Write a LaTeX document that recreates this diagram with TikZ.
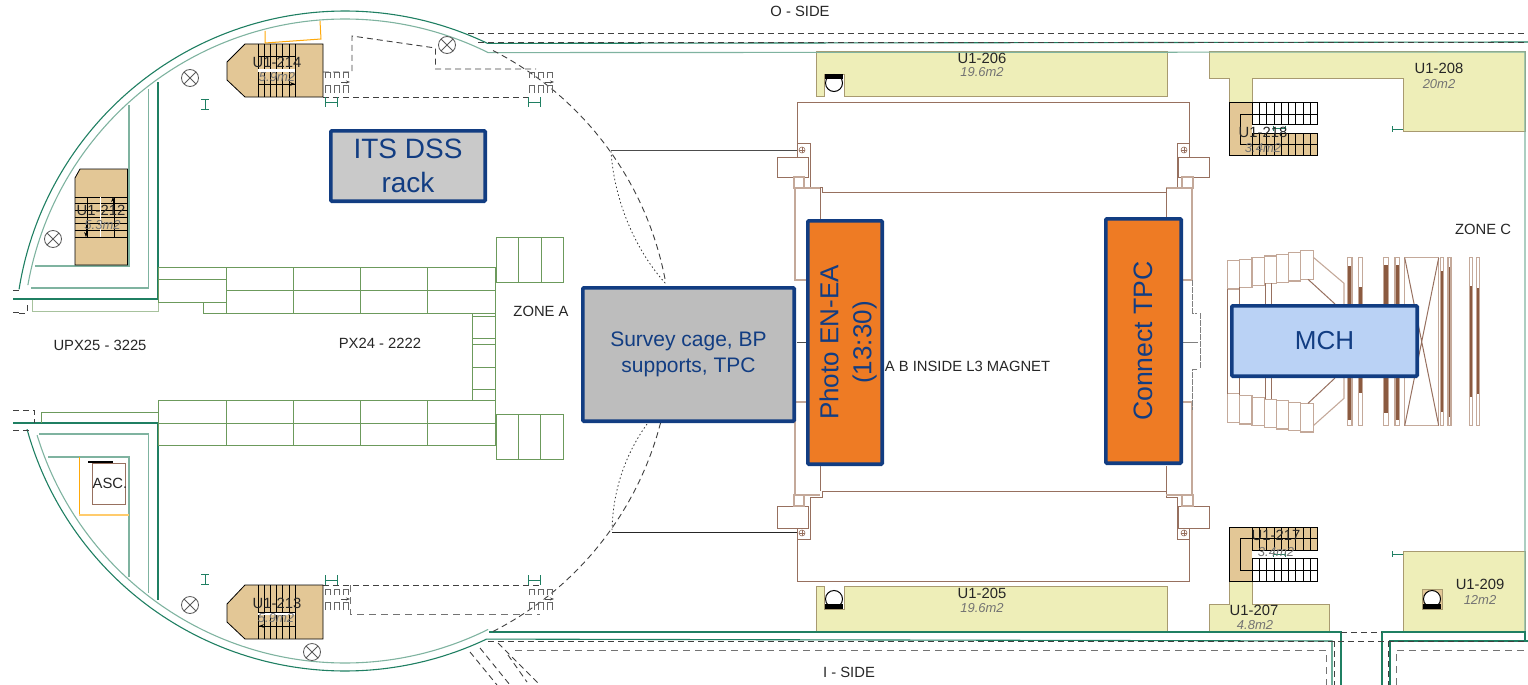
\documentclass[tikz,border=0pt]{standalone}
\usepackage{fontspec}
\setmainfont{Liberation Sans}
\usetikzlibrary{arrows.meta}
\definecolor{wallC}{HTML}{1F7F62}
\definecolor{wallL}{HTML}{7FB3A0}
\definecolor{gridC}{HTML}{6C9A5C}
\definecolor{roomC}{HTML}{EEEEB8}
\definecolor{roomL}{HTML}{A89A70}
\definecolor{stairC}{HTML}{E3C796}
\definecolor{brownC}{HTML}{97705F}
\definecolor{brownL}{HTML}{C4A99A}
\definecolor{brownD}{HTML}{8B5A40}
\definecolor{blueC}{HTML}{123D82}
\definecolor{orangeC}{HTML}{EE7B24}
\definecolor{mchC}{HTML}{BAD2F5}
\definecolor{doorC}{HTML}{FFA90A}

\tikzstyle{wS}=[wallC, line width=1.1pt]
\tikzstyle{wL}=[wallL, line width=1.1pt]
\tikzstyle{gS}=[gridC, line width=1pt]
\tikzstyle{rS}=[fill=roomC, draw=roomL, line width=1pt]
\tikzstyle{sS}=[fill=stairC, draw=black, line width=0.8pt]
\tikzstyle{stepS}=[black, line width=0.7pt]
\tikzstyle{mS}=[brownC, line width=1pt]
\tikzstyle{mL}=[brownL, line width=1.1pt]
\tikzstyle{dS}=[black!75, line width=0.9pt, dash pattern=on 6pt off 4pt]
\tikzstyle{dG}=[black!55, line width=1pt, dash pattern=on 7pt off 5pt]
\tikzstyle{xS}=[black!65, line width=0.8pt]
\tikzstyle{hS}=[wallC, line width=1pt]
\tikzstyle{tL}=[font=\fontsize{14.8}{16}\selectfont, text=black!85, inner sep=0pt]
\tikzstyle{tA}=[font=\fontsize{13}{15}\selectfont\itshape, text=black!55, inner sep=0pt]
\tikzstyle{bS}=[draw=blueC, line width=3.6pt, rounded corners=1pt, align=center, inner sep=0pt, text=blueC]

\begin{document}
\begin{tikzpicture}[x=1pt,y=-1pt]
    \useasboundingbox (0,0) rectangle (1528,685);

    % yellow rooms
    \draw[rS] (816,52) -- (1167,52) -- (1167,96) -- (844,96) -- (844,74) -- (824.5,74) -- (824.5,96) -- (816,96) -- cycle;
    \draw[rS] (816,632) -- (1167,632) -- (1167,586) -- (844,586) -- (844,609) -- (824.5,609) -- (824.5,586) -- (816,586) -- cycle;
    \draw[rS] (1209,52) -- (1525,52) -- (1525,131) -- (1403,131) -- (1403,78) -- (1252,78) -- (1252,102) -- (1229,102) -- (1229,78) -- (1209,78) -- cycle;
    \draw[rS] (1229,581) -- (1252,581) -- (1252,604) -- (1329,604) -- (1329,632) -- (1209,632) -- (1209,604) -- (1229,604) -- cycle;
    \draw[rS] (1403,551) -- (1525,551) -- (1525,632) -- (1403,632) -- cycle;
    \draw[fill=stairC,draw=roomL] (1422,589) rectangle (1442,609);

    % lift doors
    \foreach \dx/\dy/\by in {834/83/74,834/599/604,1432/599/604} {
        \draw[fill=white,line width=1pt] (\dx,\dy) circle (8.5);
        \fill[black] (\dx-9,\by) rectangle (\dx+9,\by+5);
    }

    % walls
    \draw[wS] (345,341) ++(-171:330) arc[start angle=-171,end angle=-64.4,radius=330] -- (1528,42);
    \draw[wL] (345,341) ++(-170:322) arc[start angle=-170,end angle=-63.6,radius=322] -- (1525,52) -- (1525,632);
    \draw[wS] (345,341) ++(164.5:330) arc[start angle=164.5,end angle=64.6,radius=330] -- (1332,641) -- (1332,685);
    \draw[wL] (345,341) ++(163:322) arc[start angle=163,end angle=63.6,radius=322];
    \draw[wS] (489,632) -- (1341,632) -- (1341,685);
    \draw[wS] (1382,685) -- (1382,632) -- (1525,632) -- (1525,640);
    \draw[wS] (1390,685) -- (1390,641) -- (1528,641);

    % left wall returns
    \draw[wL] (129,105) -- (129,266) -- (35,266);
    \draw[wL] (148.5,89) -- (148.5,288) -- (31,288);
    \draw[wS] (158,82) -- (158,299) -- (13,299);
    \draw[gS,opacity=.6] (32.5,300) -- (32.5,311) -- (158,311) -- (158,299);
    \draw[wS] (158,600) -- (158,423) -- (13,423);
    \draw[gS] (41,423) -- (41,412) -- (158,412) -- (158,423);
    \draw[wL] (39.4,434) -- (148.5,434) -- (148.5,593);
    \draw[wL] (48,457) -- (129,457) -- (129,577);

    % dashed lines
    \draw[dS] (468,33) -- (1528,33);
    \draw[dS] (478,42) -- (1528,42);
    \draw[dS] (488,641) -- (1528,641);
    \draw[dG] (515,650) -- (1326,650) -- (1326,685);
    \draw[dG] (1396,685) -- (1396,650) -- (1528,650);
    \draw[dS] (1341,632) -- (1382,632);
    \draw[dS] (1334,641) -- (1334,685);
    \draw[dS] (1388,641) -- (1388,685);
    \draw[dS] (498,643) -- (540,685);
    \draw[dS] (508,655) -- (527,682);
    \draw[dS] (470,652) -- (497,685);
    \draw[dS] (480,648) -- (510,685);
    \draw[dS] (13,290) -- (19,290) (13,312) -- (19,312) (27,305) -- (27,313) -- (19,313);
    \draw[dS] (13,410) -- (34,410) -- (34,423) (13,430) -- (30,430);
    \draw[dS] (323,72) -- (352,72) -- (352,36) -- (435.5,48) -- (435.5,69) -- (536,69);
    \draw[dS] (323,97) -- (530,97);
    \draw[dS] (323,585) -- (540,585);
    \draw[dG] (350,585) -- (350,614) -- (540,614);

    % big dashed circle and the lines to the magnet
    \draw[dS] (345,341) ++(-63:326) arc[start angle=-63,end angle=-10.3,radius=326];
    \draw[dS] (345,341) ++(14.5:326) arc[start angle=14.5,end angle=63,radius=326];
    \draw[black!80,line width=0.8pt,dash pattern=on 1.5pt off 2.5pt] (611,151) .. controls (614,200) and (635,250) .. (666,284);
    \draw[black!80,line width=0.8pt,dash pattern=on 1.5pt off 2.5pt] (647,424) .. controls (625,455) and (613,490) .. (612,530);
    \draw[black!70,line width=1pt] (611,150) -- (798,150);
    \draw[black!85,line width=1pt] (612,532) -- (797,532);

    % pallets
    \foreach \gx/\gw/\gy/\gh in {226/67/267/23,293/67.5/267/23,360.5/67/267/23,427.5/67.5/267/23,
                                 226/67/290/23,293/67.5/290/23,360.5/67/290/23,427.5/67.5/290/23,
                                 158/68/267/12,158/68/279/23,203/23/302/11,
                                 496.5/22/237/45,518.5/23/237/45,541.5/22/237/45,
                                 472.5/22.5/313/3,472.5/22.5/316/22,472.5/22.5/338/6,472.5/22.5/344/23,472.5/22.5/367/22,472.5/22.5/389/11,
                                 158/68/400/23,226/67/400/23,293/67.5/400/23,360.5/67/400/23,427.5/67.5/400/23,
                                 158/68/423/22,226/67/423/22,293/67.5/423/22,360.5/67/423/22,427.5/67.5/423/22,
                                 496.5/22/414/45,518.5/22/414/45,540.5/23/414/45} {
        \draw[gS] (\gx,\gy) rectangle ++(\gw,\gh);
    }

    % stairs
    \draw[sS] (245,44) -- (323,44) -- (323,97) -- (245,97) -- (227,80) -- (227,62) -- cycle;
    \draw[sS] (245,585) -- (323,585) -- (323,639) -- (245,639) -- (227,622) -- (227,604) -- cycle;
    \foreach \sx in {258,264,270,276,282,289,295} {
        \draw[stepS] (\sx,44) -- (\sx,97);
        \draw[stepS] (\sx,585) -- (\sx,639);
    }
    \draw[stepS] (258,56) -- (295,56) (258,84) -- (295,84) (258,612) -- (295,612) (258,626) -- (295,626);
    \fill[white] (258,69) rectangle (295,72);
    \fill[white] (258,612.5) rectangle (295,615);
    \draw[stepS,-{Stealth[length=5pt]}] (280,84) -- (295,84);
    \draw[stepS,-{Stealth[length=5pt]}] (270,626) -- (259,626);
    \draw[sS] (80,169) -- (127.5,169) -- (127.5,265) -- (75,265) -- (75,178) -- cycle;
    \foreach \sy in {197,203,210,217,223,230,237} {
        \draw[stepS] (75,\sy) -- (127.5,\sy);
    }
    \draw[stepS] (87,197) -- (87,237) (114,197) -- (114,237);
    \fill[white] (99.5,197) rectangle (101,237);
    \draw[stepS,-{Stealth[length=5pt]}] (113,210) -- (113,197);
    \draw[stepS,-{Stealth[length=5pt]}] (86,225) -- (86,237);

    % stairs on the right
    \fill[stairC] (1229,102) rectangle (1252,155);
    \fill[stairC] (1252,133) rectangle (1317.5,155);
    \fill[stairC] (1229,527) rectangle (1252,581);
    \fill[stairC] (1252,527) rectangle (1317.5,550);
    \draw[stepS] (1229,102) -- (1317.5,102) -- (1317.5,124) -- (1252,124) (1252,133) -- (1317.5,133) -- (1317.5,155) -- (1229,155) -- (1229,102);
    \draw[stepS] (1229,581) -- (1317.5,581) -- (1317.5,558) -- (1252,558) (1252,550) -- (1317.5,550) -- (1317.5,527) -- (1229,527) -- (1229,581);
    \foreach \sx in {1252,1259.3,1266.6,1273.9,1281.2,1288.5,1295.8,1303.1,1310.4} {
        \draw[stepS] (\sx,102) -- (\sx,124) (\sx,133) -- (\sx,155);
        \draw[stepS] (\sx,527) -- (\sx,550) (\sx,558) -- (\sx,581);
    }
    \draw[stepS] (1260,114) -- (1317.5,114) (1260,114) -- (1240.7,114) -- (1240.7,144) -- (1317.5,144);
    \draw[stepS] (1317.5,538) -- (1240.7,538) -- (1240.7,570) -- (1317.5,570);
    \draw[hS] (1273,128) -- (1285,128) (1273,125.5) -- (1273,130.5) (1285,125.5) -- (1285,130.5);
    \draw[hS] (1273,554) -- (1285,554) (1273,551.5) -- (1273,556.5) (1285,551.5) -- (1285,556.5);

    % dashed small stairs
    \foreach \qx/\qy in {323/72,527/72,323/589,527/589} {
        \foreach \qq in {2,11,20} {
            \draw[black!60,line width=0.7pt] (\qx+\qq,\qy+6) -- (\qx+\qq,\qy) -- (\qx+\qq+5,\qy) -- (\qx+\qq+5,\qy+6);
            \draw[black!60,line width=0.7pt] (\qx+\qq,\qy+21) -- (\qx+\qq,\qy+13) -- (\qx+\qq+5,\qy+13) -- (\qx+\qq+5,\qy+21);
        }
        \draw[black!70,line width=0.6pt,-{Stealth[length=4pt]}] (\qx+18,\qy+10) -- (\qx+27,\qy+10);
    }

    % orange bits and the lift
    \draw[doorC,line width=1pt] (265,31) -- (265,43) -- (321,39) -- (320,21);
    \draw[doorC,line width=1pt] (79,457) -- (79,515);
    \draw[doorC!60,line width=2.2pt] (79,515) -- (129,515);
    \draw[brownC,fill=white,line width=1pt] (92,463) rectangle (125,504);
    \draw[black,line width=1.5pt] (88,462) -- (113,462);

    % crossed circles
    \foreach \cx/\cy in {190/78,447/45,53/239,190/605,312/652} {
        \draw[xS] (\cx,\cy) circle (8.5);
        \draw[xS] (\cx-6,\cy-6) -- (\cx+6,\cy+6) (\cx-6,\cy+6) -- (\cx+6,\cy-6);
    }

    % green marks
    \foreach \hx/\hy in {325/102,528/102,325/580,528/580} {
        \draw[hS] (\hx,\hy) -- ++(12,0) (\hx,\hy-5) -- ++(0,10) (\hx+12,\hy-5) -- ++(0,10);
    }
    \foreach \hy in {104,579} {
        \draw[hS] (205,\hy-5) -- (205,\hy+5) (201,\hy-5) -- (209,\hy-5) (201,\hy+5) -- (209,\hy+5);
    }
    \draw[hS] (1392,129) -- (1403,129) (1392,126) -- (1392,132);
    \draw[hS] (1392,554) -- (1403,554) (1392,551) -- (1392,557);

    % magnet
    \draw[mS] (797,102) -- (1189,102) -- (1189,143) -- (1177,143) -- (1177,187) -- (1166,187) -- (1166,192) -- (822,192) -- (822,187) -- (810,187) -- (810,143) -- (797,143) -- cycle;
    \draw[mS] (797,581) -- (1189,581) -- (1189,539) -- (1177,539) -- (1177,497) -- (1166,497) -- (1166,491) -- (822,491) -- (822,497) -- (810,497) -- (810,539) -- (797,539) -- cycle;
    \draw[mS] (797,143) -- (797,157) (1189,143) -- (1189,157) (797,528) -- (797,539) (1189,528) -- (1189,539);
    \foreach \mx in {777,1178} {
        \draw[mS] (\mx,157) rectangle ++(31,20);
        \draw[mS] (\mx,506) rectangle ++(31,22);
    }
    \foreach \mx in {802,1184} {
        \foreach \my in {150,533} {
            \draw[mS,line width=0.6pt] (\mx,\my) circle (3);
            \draw[mS,line width=0.6pt] (\mx-3,\my) -- (\mx+3,\my) (\mx,\my-3) -- (\mx,\my+3);
        }
    }
    \draw[mL] (794,188) rectangle (804,177);
    \draw[mL] (1182,188) rectangle (1193,177);
    \draw[mL] (794,495) rectangle (804,506);
    \draw[mL] (1182,495) rectangle (1193,506);
    \draw[mL] (806,280) -- (795,280) -- (795,188) -- (820,188);
    \draw[mL] (1183,280) -- (1192,280) -- (1192,188) -- (1166,188);
    \draw[mL] (806,402) -- (795,402) -- (795,495) -- (820,495);
    \draw[mL] (1183,402) -- (1192,402) -- (1192,495) -- (1166,495);
    \draw[mS] (820,188) -- (820,219) (1166,188) -- (1166,217) (820,466) -- (820,491) (1166,466) -- (1166,491);

    % between the frames
    \draw[black!70,line width=0.8pt] (797,342) -- (806,342);
    \draw[black!50,line width=0.8pt] (1183,342) -- (1198,342);
    \draw[black!50,line width=0.7pt,dash pattern=on 6pt off 1pt] (1192.7,280) -- (1192.7,313) -- (1197,313) (1200.7,313) -- (1200.7,369) (1197,369) -- (1192.7,369) -- (1192.7,410);

    % muon arm
    \foreach \ax/\aw/\at/\ab in {1227.3/12.4/260.3/289,1239.7/12.3/259.3/287.3,1252/12.3/257.7/285.7,1264.3/12/256/283.3,1276.3/12/254.3/282.3,1288.3/12.4/252.7/281,1300.7/12.6/250.7/279.3,
                                 1227.3/12.4/393.7/422.3,1239.7/12.3/395.3/424,1252/12.3/397.3/425.7,1264.3/12/399.3/427.7,1276.3/12/400.7/429,1288.3/12.4/402.3/430.7,1300.7/12.6/403.3/432} {
        \draw[mL] (\ax,\at) rectangle (\ax+\aw,\ab);
    }
    \draw[mS] (1227.3,289) -- (1227.3,394) (1239.7,287) -- (1239.7,395) (1265,283) -- (1265,399) (1271,283) -- (1271,399);
    \draw[mL] (1313.3,257.3) -- (1344,283.3) -- (1344,398.3) -- (1313.3,425.7);
    \draw[mS] (1308,279.3) -- (1335,304) (1308,403.3) -- (1335,378);
    \foreach \ax/\aw/\at/\ab in {1347.3/4.7/265.7/420,1358.3/4.4/286.7/393,1383.3/5/265/413,1395/4.3/265/420,1440.7/3/270.7/411.7,1448/3/266.7/416.7,1469.3/3/286/396.7,1476.3/3/288/394} {
        \draw[mL] (\ax,257.7) rectangle (\ax+\aw,425.7);
        \fill[brownD] (\ax+.6,\at) rectangle (\ax+\aw-.6,\ab);
    }
    \draw[mL] (1404.7,257.7) rectangle (1438.7,425.7);
    \draw[mS] (1404.7,257.7) -- (1438.7,425.7) (1438.7,257.7) -- (1404.7,425.7);

    % labels
    \draw (800,11) node[tL] (oSide) {O - SIDE};
    \draw (849,672) node[tL] (iSide) {I - SIDE};
    \draw (100,345) node[tL] (upx) {UPX25 - 3225};
    \draw (380,343) node[tL] (px) {PX24 - 2222};
    \draw (541,311) node[tL] (zoneA) {ZONE A};
    \draw (1483,229) node[tL] (zoneC) {ZONE C};
    \draw (967.5,366) node[tL] (magnet) {A B INSIDE L3 MAGNET};
    \draw (110,483) node[tL] (asc) {ASC.};
    \draw (277,62) node[tL] (u214) {U1-214};
    \draw (277,77) node[tA] (a214) {5.9m2};
    \draw (277,603) node[tL] (u213) {U1-213};
    \draw (276,618) node[tA] (a213) {5.9m2};
    \draw (101,210) node[tL] (u212) {U1-212};
    \draw (102.5,225) node[tA] (a212) {5.3m2};
    \draw (982,58) node[tL] (u206) {U1-206};
    \draw (982,72) node[tA] (a206) {19.6m2};
    \draw (982,593) node[tL] (u205) {U1-205};
    \draw (982,608) node[tA] (a205) {19.6m2};
    \draw (1439,68) node[tL] (u208) {U1-208};
    \draw (1439,84) node[tA] (a208) {20m2};
    \draw (1263,132) node[tL] (u218) {U1-218};
    \draw (1263,148) node[tA] (a218) {3.4m2};
    \draw (1276,535) node[tL] (u217) {U1-217};
    \draw (1276,552) node[tA] (a217) {3.4m2};
    \draw (1254,610) node[tL] (u207) {U1-207};
    \draw (1255,625) node[tA] (a207) {4.8m2};
    \draw (1480,584) node[tL] (u209) {U1-209};
    \draw (1480,600) node[tA] (a209) {12m2};

    % task boxes
    \draw (408,166) node[bS,fill=black!21,minimum width=154.4pt,minimum height=70.4pt,font=\fontsize{28}{34}\selectfont] (itsDss) {ITS DSS\\rack};
    \draw (688.5,354.5) node[bS,fill=black!26,minimum width=211.4pt,minimum height=133.4pt,font=\fontsize{21}{26}\selectfont] (survey) {Survey cage, BP\\supports, TPC};
    \draw (845,342.5) node[bS,fill=orangeC,rotate=90,minimum width=243.4pt,minimum height=74.4pt,font=\fontsize{26}{33}\selectfont] (photo) {\rule{0pt}{25pt}Photo EN-EA\\(13:30)};
    \draw (1143.5,341) node[bS,fill=orangeC,rotate=90,minimum width=244.4pt,minimum height=75.4pt,font=\fontsize{26.6}{32}\selectfont] (tpc) {Connect TPC};
    \draw (1324.5,341) node[bS,fill=mchC,minimum width=185.4pt,minimum height=70.4pt,font=\fontsize{26}{32}\selectfont] (mch) {MCH};
\end{tikzpicture}
\end{document}
